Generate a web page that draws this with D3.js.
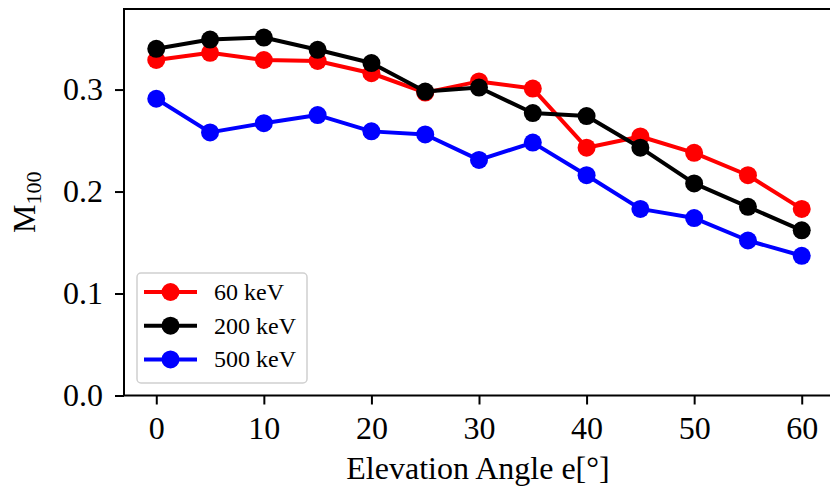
<!DOCTYPE html>
<html>
<head>
<meta charset="utf-8">
<script src="https://cdn.jsdelivr.net/npm/d3@7"></script>
<style>
  html, body { margin: 0; padding: 0; background: #fff; }
  svg { display: block; }
  text { font-family: "Liberation Serif", "DejaVu Serif", serif; fill: #000; }
</style>
</head>
<body>
<svg id="chart" width="830" height="489"></svg>
<script>
// ---- data ----
const angles = [0, 5, 10, 15, 20, 25, 30, 35, 40, 45, 50, 55, 60];
const seriesNames = ["60 keV", "200 keV", "500 keV"];
const m60  = [0.329, 0.336, 0.329, 0.328, 0.316, 0.297, 0.308, 0.301, 0.243, 0.254, 0.238, 0.216, 0.183];
const m200 = [0.340, 0.349, 0.351, 0.339, 0.326, 0.298, 0.302, 0.277, 0.274, 0.243, 0.208, 0.185, 0.162];
const m500 = [0.291, 0.258, 0.267, 0.275, 0.259, 0.256, 0.231, 0.248, 0.216, 0.183, 0.174, 0.152, 0.137];
const xTicks = [0, 10, 20, 30, 40, 50, 60];
const yTicks = [0.0, 0.1, 0.2, 0.3];
const colors = ["#ff0000", "#000000", "#0000ff"];

const series = [m60, m200, m500].map((vals, i) => ({
  name: seriesNames[i], color: colors[i],
  points: angles.map((a, j) => ({ x: a, y: vals[j] }))
}));

// ---- layout ----
const svg = d3.select("#chart");
const pL = 124, pT = 9, pR = 834, pB = 395.5;

const x = d3.scaleLinear().domain([-3, 63]).range([pL, pR]);
const y = d3.scaleLinear().domain([0, 0.379]).range([pB, pT]);

// axes
const xAxis = d3.axisBottom(x).tickValues(xTicks).tickFormat(d3.format("d"))
  .tickSize(9).tickPadding(12);
const yAxis = d3.axisLeft(y).tickValues(yTicks).tickFormat(d3.format(".1f"))
  .tickSize(9).tickPadding(12);

const gx = svg.append("g").attr("transform", `translate(0,${pB})`).call(xAxis);
const gy = svg.append("g").attr("transform", `translate(${pL},0)`).call(yAxis);
[gx, gy].forEach(g => {
  g.select(".domain").remove();
  g.selectAll(".tick line").attr("stroke", "#000").attr("stroke-width", 2);
  g.selectAll(".tick text").style("font-size", "32px").attr("fill", "#000");
});

// frame (spines)
svg.append("rect")
  .attr("x", pL).attr("y", pT)
  .attr("width", pR - pL).attr("height", pB - pT)
  .attr("fill", "none").attr("stroke", "#000").attr("stroke-width", 2);

// lines & markers
const line = d3.line().x(d => x(d.x)).y(d => y(d.y));
const gSeries = svg.append("g");
series.forEach(s => {
  const g = gSeries.append("g");
  g.append("path").datum(s.points)
    .attr("d", line).attr("fill", "none")
    .attr("stroke", s.color).attr("stroke-width", 4)
    .attr("stroke-linejoin", "round");
  g.selectAll("circle").data(s.points).join("circle")
    .attr("cx", d => x(d.x)).attr("cy", d => y(d.y))
    .attr("r", 9).attr("fill", s.color);
});

// axis labels
svg.append("text")
  .attr("x", 478).attr("y", 479)
  .attr("text-anchor", "middle")
  .style("font-size", "32px")
  .text("Elevation Angle e[°]");

const yl = svg.append("text")
  .attr("transform", `translate(35,${(pT + pB) / 2}) rotate(-90)`)
  .attr("text-anchor", "middle")
  .style("font-size", "32px");
yl.append("tspan").text("M");
yl.append("tspan").attr("dy", 6).style("font-size", "22px").text("100");

// legend
const lg = svg.append("g");
lg.append("rect")
  .attr("x", 137).attr("y", 273).attr("width", 170).attr("height", 110)
  .attr("rx", 4).attr("fill", "#fff").attr("fill-opacity", 0.8)
  .attr("stroke", "#d0d0d0").attr("stroke-width", 1.5);
series.forEach((s, i) => {
  const cy = 292 + i * 33.7;
  lg.append("line").attr("x1", 144).attr("x2", 197).attr("y1", cy).attr("y2", cy)
    .attr("stroke", s.color).attr("stroke-width", 4);
  lg.append("circle").attr("cx", 170.5).attr("cy", cy).attr("r", 9).attr("fill", s.color);
  lg.append("text").attr("x", 214).attr("y", cy + 8)
    .style("font-size", "24px").text(s.name);
});
</script>
</body>
</html>
